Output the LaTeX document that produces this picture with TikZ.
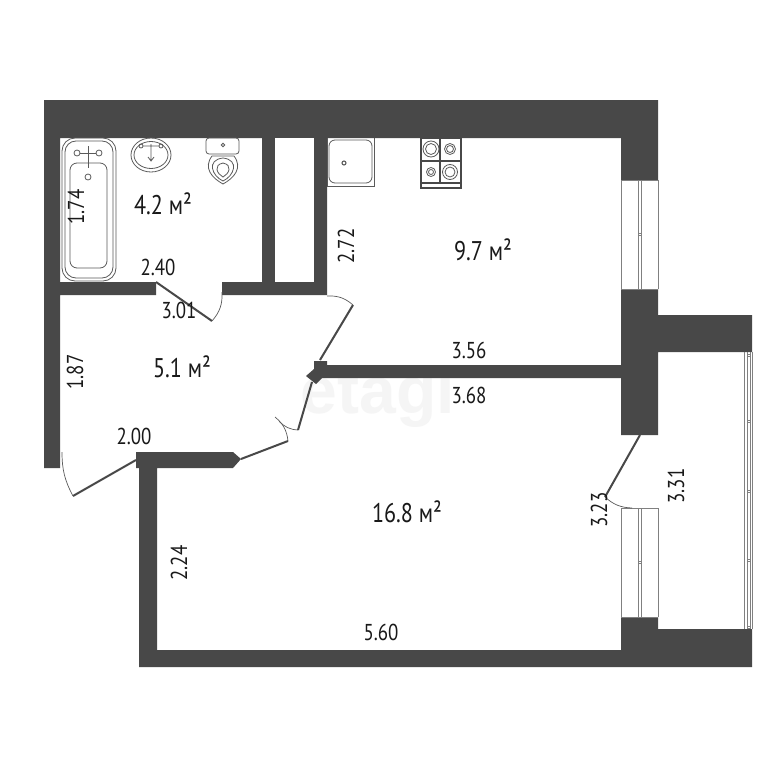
\documentclass[tikz,border=0pt]{standalone}
\usepackage{fontspec}
\setmainfont[FakeStretch=0.82]{PT Sans}
\newfontfamily\markfont{Liberation Sans}
\definecolor{wallgray}{HTML}{484848}
\definecolor{fixgray}{HTML}{5A5A5A}
\begin{document}
\begin{tikzpicture}[x=1pt,y=-1pt,
	main wall/.style = {fill=wallgray,draw=none},
	door leaf/.style = {draw=wallgray,line width=2pt},
	door arc/.style = {draw=fixgray,line width=0.7pt},
	fixture/.style = {draw=fixgray,line width=0.8pt},
	glass/.style = {draw=gray,line width=0.9pt},
	size label/.style = {font=\fontsize{23}{23}\selectfont,text=black!90,inner sep=0pt},
	area label/.style = {font=\fontsize{27}{27}\selectfont,text=black!90,inner sep=0pt}]
	\fill[white] (0,0) rectangle (768,768);
	\useasboundingbox (0,0) rectangle (768,768);
	\node[font=\markfont\bfseries\fontsize{66}{66}\selectfont,text=black!4,inner sep=0pt,anchor=base] (mark) at (378,413) {etagi};
	
	% walls
	\path[main wall] (44,100) -- (658,100) -- (658,180) -- (621,180) -- (621,138) -- (327,138) -- (327,295) -- (222,295) -- (222,282) -- (262,282) -- (262,138) -- (60,138) -- (60,282) -- (156,282) -- (156,295) -- (60,295) -- (60,468) -- (44,468) -- cycle;
	\fill[white] (275,138) rectangle (314,282);
	\path[main wall] (621,289) -- (658,289) -- (658,315) -- (752,315) -- (752,352) -- (658,352) -- (658,435) -- (621,435) -- (621,378) -- (327,378) -- (314,378) -- (314,361) -- (327,361) -- (327,365) -- (621,365) -- cycle;
	\path[main wall] (306,376) -- (314,369) -- (323,377) -- (316,384) -- cycle;
	\path[main wall] (136,452) -- (233,452) -- (241,459) -- (233,468) -- (157,468) -- (157,650) -- (621,650) -- (621,617) -- (658,617) -- (658,629) -- (752,629) -- (752,667) -- (139,667) -- (139,468) -- (136,468) -- cycle;
	
	% windows
	\foreach \ya/\yb in {180/289,508/617} {
		\draw[glass] (621,\ya) -- (658,\ya) (621,\yb) -- (658,\yb) (621,\ya) -- (621,\yb) (658,\ya) -- (658,\yb);
		\draw[glass] (638,\ya) rectangle (641,\yb);
		\draw[glass,line width=0.6pt] (638,{(\ya+\yb)/2-1}) -- (641,{(\ya+\yb)/2-1}) (638,{(\ya+\yb)/2+1}) -- (641,{(\ya+\yb)/2+1});
	}
	\draw[glass] (744,352) -- (744,629) (747,352) -- (747,629) (750,352) -- (750,629) (752,352) -- (752,629);
	\foreach \y in {355,421,491,560,627} \draw[glass,line width=0.6pt] (747,\y-1) -- (750,\y-1) (747,\y+1) -- (750,\y+1);
	
	% doors
	\draw[door leaf] (156,282) -- (212,321);
	\draw[door arc] (212,321) to[bend right=22] (222,292);
	\draw[door leaf] (320,360) -- (353,305);
	\draw[door arc] (353,305) to[bend right=22] (327,296);
	\draw[door leaf] (312,382) -- (298,430);
	\draw[door arc] (298,430) to[bend left=22] (279,421);
	\draw[door leaf] (241,459) -- (288,441);
	\draw[door arc] (288,441) to[bend right=22] (275,417);
	\draw[door leaf] (136,460) -- (73,496);
	\draw[door arc] (73,496) to[bend left=14] (62,452);
	\draw[door leaf] (640,435) -- (605,497);
	\draw[door arc] (605,497) to[bend right=20] (632,508);
	
	% bath
	\draw[fixture,rounded corners=13pt] (62,138) rectangle (116,281);
	\draw[fixture,rounded corners=11pt] (65,141) rectangle (113,278);
	\draw[fixture,rounded corners=7pt] (70,163) rectangle (107,268);
	\draw[fixture] (88,146) -- (88,168) (80,153) -- (96,153);
	\draw[fixture] (77,153) circle (3) (99,153) circle (3) (88,177) circle (3);
	% basin
	\draw[fixture] (151,155) ellipse (20 and 17) (151,155) ellipse (17 and 13.5);
	\draw[fixture] (151,144) -- (151,160) (143,146) -- (159,146) (148,157) -- (151,161) -- (154,157);
	\draw[fixture] (141,146) circle (2) (161,146) circle (2);
	% toilet
	\draw[fixture,rounded corners=3pt] (206,138) rectangle (239,154);
	\draw[fixture] (223,145) circle (1.8);
	\draw[fixture] (212,156) .. controls (203,168) and (212,178) .. (223,184) .. controls (234,178) and (243,168) .. (234,156) -- cycle;
	\draw[fixture] (223,158) .. controls (206,160) and (212,176) .. (223,181) .. controls (234,176) and (240,160) .. (223,158) -- cycle;
	\draw[fixture] (223,163) .. controls (213,165) and (217,174) .. (223,177) .. controls (229,174) and (233,165) .. (223,163) -- cycle;
	% kitchen sink
	\draw[fixture,line width=0.6pt] (327,138) -- (327,186) -- (374,186) -- (374,138);
	\draw[fixture,rounded corners=6pt] (329,140) rectangle (372,183);
	\draw[fixture,line width=1.1pt] (344,163) circle (2);
	% stove
	\draw[draw=wallgray,line width=1.1pt] (421,138) rectangle (461,188);
	\draw[draw=wallgray,line width=1.1pt] (421,161) -- (461,161) (421,183) -- (461,183) (440,138) -- (440,183);
	\draw[fixture] (431,149) circle (8) (431,149) circle (5.5);
	\draw[fixture] (450,149) circle (5.5) (450,149) circle (3.5);
	\draw[fixture] (431,172) circle (4.5) (431,172) circle (2.5);
	\draw[fixture] (450,172) circle (7.5) (450,172) circle (5);
	
	% labels
	\node[area label] (area1) at (163,204) {4.2 м²};
	\node[area label] (area2) at (483,250) {9.7 м²};
	\node[area label] (area3) at (182,367) {5.1 м²};
	\node[area label] (area4) at (407,512) {16.8 м²};
	\node[size label,rotate=90] (bathlen) at (76,207) {1.74};
	\node[size label] (bathwd) at (158,267) {2.40};
	\node[size label] (hallwd) at (179,310) {3.01};
	\node[size label,rotate=90] (kitlen) at (346,246) {2.72};
	\node[size label] (kitwd) at (469,350) {3.56};
	\node[size label] (roomwd) at (469,395) {3.68};
	\node[size label,rotate=90] (halllen) at (75,372) {1.87};
	\node[size label] (doorwd) at (134,436) {2.00};
	\node[size label,rotate=90] (roomlen) at (179,563) {2.24};
	\node[size label] (roombot) at (381,632) {5.60};
	\node[size label,rotate=90] (roomright) at (599,510) {3.23};
	\node[size label,rotate=90] (balclen) at (676,486) {3.31};
\end{tikzpicture}
\end{document}
